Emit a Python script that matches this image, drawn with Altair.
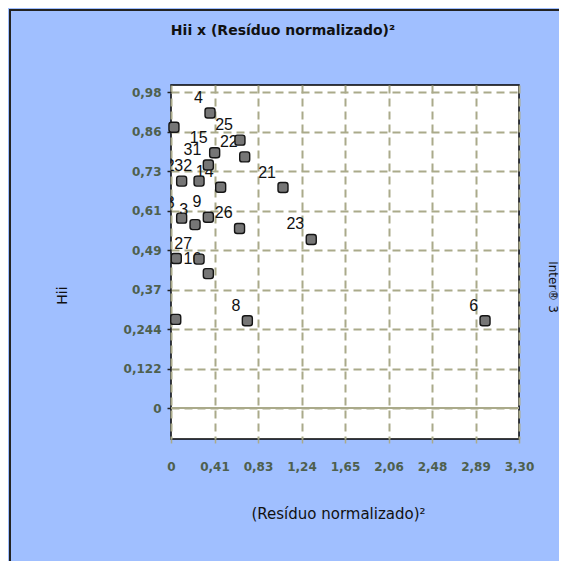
import altair as alt
import pandas as pd

# ---- data ----
obs = ["4", "1", "25", "15", "22", "31", "12", "32", "14", "21", "28",
       "3", "9", "26", "23", "17", "27", "16", "18", "8", "6"]
res2 = [0.370, 0.028, 0.654, 0.414, 0.699, 0.354, 0.101, 0.266, 0.471, 1.062, 0.101,
        0.228, 0.354, 0.650, 1.330, 0.050, 0.266, 0.354, 0.045, 0.724, 2.978]
hii = [0.915, 0.871, 0.831, 0.792, 0.779, 0.754, 0.704, 0.704, 0.685, 0.684, 0.589,
       0.569, 0.592, 0.557, 0.523, 0.464, 0.462, 0.417, 0.275, 0.271, 0.271]

x_ticks = [0, 0.4125, 0.825, 1.2375, 1.65, 2.0625, 2.475, 2.8875, 3.3]
x_tick_labels = ["0", "0,41", "0,83", "1,24", "1,65", "2,06", "2,48", "2,89", "3,30"]
y_ticks = [0, 0.1225, 0.245, 0.3675, 0.49, 0.6125, 0.735, 0.8575, 0.98]
y_tick_labels = ["0", "0,122", "0,244", "0,37", "0,49", "0,61", "0,73", "0,86", "0,98"]

title_text = "Hii x (Resíduo normalizado)²"
x_title = "(Resíduo normalizado)²"
y_title = "Hii"
side_text = "Inter® 3"

df = pd.DataFrame({"obs": obs, "res2": res2, "hii": hii})

BLUE = "#A0BFFF"
OLIVE = "#AAAA8A"
LABEL_COL = "#4E604E"

x_expr = "[" + ",".join(f"'{s}'" for s in x_tick_labels) + "][round(datum.value/0.4125)]"
y_expr = "[" + ",".join(f"'{s}'" for s in y_tick_labels) + "][round(datum.value/0.1225)]"

xs = alt.Scale(domain=[0, 3.3], nice=False, zero=False)
ys = alt.Scale(domain=[-0.096, 1.002], nice=False, zero=False)

x_enc = alt.X("res2:Q", scale=xs, axis=alt.Axis(
    values=x_ticks, labelExpr=x_expr, title=x_title, grid=True,
    gridDash=[8, 5], gridColor=OLIVE, gridWidth=2, domain=False,
    tickColor=OLIVE, tickSize=4, tickWidth=1.5, labelPadding=18,
    labelFont="DejaVu Sans", labelFontSize=12, labelFontWeight="bold",
    labelColor=LABEL_COL, labelFlush=False, labelOverlap=False,
    titleFont="DejaVu Sans", titleFontSize=15, titleFontWeight="normal",
    titleColor="#111111", titleX=167, titleY=74, titleBaseline="middle"))

y_enc = alt.Y("hii:Q", scale=ys, axis=alt.Axis(
    values=y_ticks, labelExpr=y_expr, title=y_title, grid=True,
    gridDash=[8, 5], gridColor=OLIVE, gridWidth=2, domain=False,
    tickColor="#222222", tickSize=4, tickWidth=1.5, labelPadding=6,
    labelFont="DejaVu Sans", labelFontSize=12, labelFontWeight="bold",
    labelColor=LABEL_COL, labelOverlap=False,
    titleFont="DejaVu Sans", titleFontSize=14, titleFontWeight="normal",
    titleColor="#111111", titleX=-109, titleY=210, titleAngle=270,
    titleAlign="center", titleBaseline="middle"))

base = alt.Chart(df)

labels = base.mark_text(
    align="right", baseline="alphabetic", dx=-7, dy=-10,
    font="Liberation Sans", fontSize=16, color="#111111", clip=True
).encode(x=x_enc, y=y_enc, text="obs:N")

rounded_sq = ("M -0.5 -1 L 0.5 -1 Q 1 -1 1 -0.5 L 1 0.5 Q 1 1 0.5 1 "
              "L -0.5 1 Q -1 1 -1 0.5 L -1 -0.5 Q -1 -1 -0.5 -1 Z")
points = base.mark_point(
    shape=rounded_sq, size=100, filled=True, fill="#767676",
    stroke="#151515", strokeWidth=1.4, opacity=1
).encode(x="res2:Q", y="hii:Q")

zero_df = pd.DataFrame({"v": [0]})
zero_line = alt.Chart(zero_df).mark_rule(color=OLIVE, strokeWidth=2).encode(y="v:Q")

side_df = pd.DataFrame({"t": [side_text]})
side = alt.Chart(side_df).mark_text(
    angle=90, font="DejaVu Sans", fontSize=12, color="#111111",
    align="center", baseline="middle"
).encode(text="t:N", x=alt.value(382), y=alt.value(202))

title_df = pd.DataFrame({"t": [title_text]})
title = alt.Chart(title_df).mark_text(
    font="DejaVu Sans", fontSize=14, fontWeight="bold", color="#111111",
    align="center", baseline="middle"
).encode(text="t:N", x=alt.value(112), y=alt.value(-54))

frame_df = pd.DataFrame({"k": [1]})
frame_left = alt.Chart(frame_df).mark_rule(color="#222222", strokeWidth=2).encode(
    x=alt.value(-161), y=alt.value(-76), y2=alt.value(480))
frame_top = alt.Chart(frame_df).mark_rule(color="#222222", strokeWidth=2).encode(
    x=alt.value(-162), x2=alt.value(390), y=alt.value(-75))

chart = alt.layer(zero_line, labels, points, side, title, frame_left, frame_top).properties(
    width=348, height=354,
    autosize=alt.AutoSizeParams(type="none"),
    padding={"left": 163, "top": 77, "right": 40, "bottom": 122},
    background=BLUE,
).configure_view(
    stroke="#000000", strokeWidth=1.5, fill="white"
)

chart.save("out.html", embed_options={"renderer": "svg", "actions": False})
